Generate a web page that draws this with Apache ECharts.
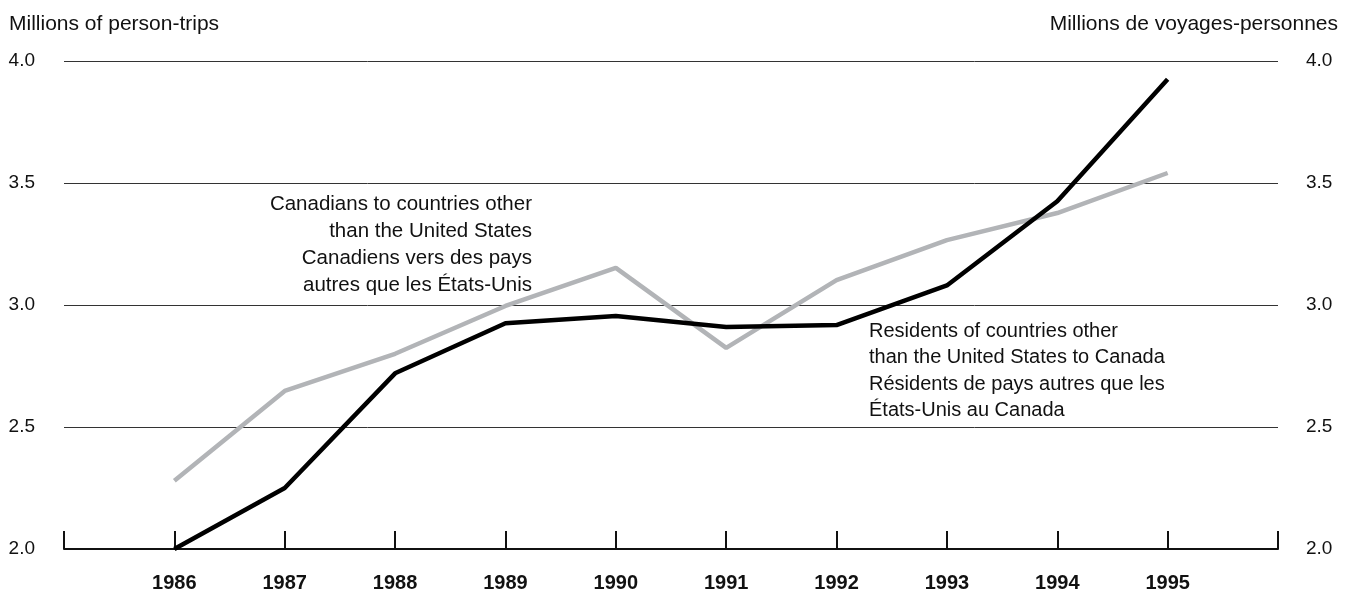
<!DOCTYPE html>
<html>
<head>
<meta charset="utf-8">
<script src="https://cdn.jsdelivr.net/npm/echarts@6/dist/echarts.min.js"></script>
<style>
  html, body { margin: 0; padding: 0; background: #fff; }
  #chart { width: 1351px; height: 593px; }
</style>
</head>
<body>
<div id="chart"></div>
<script>
const years = [1986, 1987, 1988, 1989, 1990, 1991, 1992, 1993, 1994, 1995]
// Residents of countries other than the US to Canada (black)
const residentsToCanada = [2.0, 2.25, 2.72, 2.925, 2.955, 2.91, 2.918, 3.08, 3.425, 3.925]
// Canadians to countries other than the US (grey)
const canadiansAbroad = [2.28, 2.648, 2.80, 2.996, 3.152, 2.824, 3.102, 3.266, 3.377, 3.541]
const yTicks = [2.0, 2.5, 3.0, 3.5, 4.0]

const font = 'Liberation Sans, Arial, sans-serif'
const chart = echarts.init(document.getElementById('chart'))

const yAxisBase = {
  type: 'value',
  min: yTicks[0],
  max: yTicks[yTicks.length - 1],
  interval: 0.5,
  axisLine: { show: false },
  axisTick: { show: false },
  axisLabel: { color: '#111', fontSize: 19, fontFamily: font, formatter: (v) => v.toFixed(1) },
}

chart.setOption({
  animation: false,
  grid: { left: 64, right: 73, top: 61, bottom: 44 },
  xAxis: {
    type: 'value',
    min: years[0] - 1,
    max: years[years.length - 1] + 1,
    interval: 1,
    axisLine: { lineStyle: { color: '#111', width: 2 } },
    axisTick: { inside: true, length: 18, lineStyle: { color: '#111', width: 2 } },
    splitLine: { show: false },
    axisLabel: {
      margin: 24,
      color: '#111',
      fontSize: 20,
      fontWeight: 'bold',
      fontFamily: font,
      formatter: (v) => years.includes(v) ? String(v) : '',
    },
  },
  yAxis: [
    {
      ...yAxisBase,
      position: 'left',
      axisLabel: { ...yAxisBase.axisLabel, margin: 29 },
      splitLine: { lineStyle: { color: '#333', width: 1 } },
    },
    {
      ...yAxisBase,
      position: 'right',
      axisLabel: { ...yAxisBase.axisLabel, margin: 28 },
      splitLine: { show: false },
    },
  ],
  graphic: [
    { type: 'text', left: 9, top: 14, style: { text: 'Millions of person-trips', fontSize: 21, fontFamily: font, fill: '#111' } },
    { type: 'text', right: 13, top: 14, style: { text: 'Millions de voyages-personnes', fontSize: 21, fontFamily: font, fill: '#111' } },
    {
      type: 'text', x: 532, y: 191,
      style: {
        text: 'Canadians to countries other\nthan the United States\nCanadiens vers des pays\nautres que les États-Unis',
        align: 'right', verticalAlign: 'top', fontSize: 20.5, lineHeight: 27, fontFamily: font, fill: '#111',
      },
    },
    {
      type: 'text', x: 869, y: 318,
      style: {
        text: 'Residents of countries other\nthan the United States to Canada\nRésidents de pays autres que les\nÉtats-Unis au Canada',
        align: 'left', verticalAlign: 'top', fontSize: 20, lineHeight: 26.5, fontFamily: font, fill: '#111',
      },
    },
  ],
  series: [
    {
      name: 'Canadians to countries other than the United States',
      type: 'line',
      data: years.map((y, i) => [y, canadiansAbroad[i]]),
      symbol: 'none',
      lineStyle: { color: '#b2b4b7', width: 4.5 },
    },
    {
      name: 'Residents of countries other than the United States to Canada',
      type: 'line',
      data: years.map((y, i) => [y, residentsToCanada[i]]),
      symbol: 'none',
      lineStyle: { color: '#000', width: 4.5 },
    },
  ],
})
</script>
</body>
</html>
